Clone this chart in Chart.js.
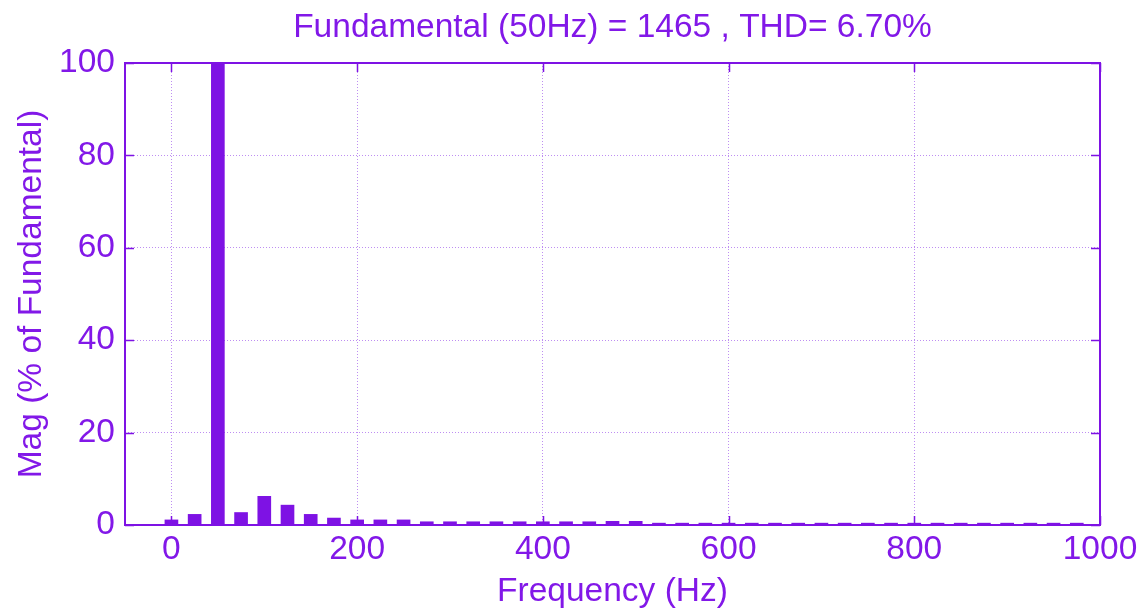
<!DOCTYPE html>
<html>
<head>
<meta charset="utf-8">
<script src="https://cdn.jsdelivr.net/npm/chart.js@4"></script>
<style>
html,body{margin:0;padding:0;background:#fff;}
#wrap{width:1147px;height:612px;}
</style>
</head>
<body>
<div id="wrap"><canvas id="c" width="1147" height="612"></canvas></div>
<script>
const chartTitle = 'Fundamental (50Hz) = 1465 , THD= 6.70%';
const xTitle = 'Frequency (Hz)';
const yTitle = 'Mag (% of Fundamental)';
const frequencies = [0,25,50,75,100,125,150,175,200,225,250,275,300,325,350,375,400,425,450,475,500,525,550,575,600,625,650,675,700,725,750,775,800,825,850,875,900,925,950,975];
const magnitudes = [1.1,2.3,100,2.7,6.2,4.3,2.3,1.5,1.1,1.1,1.1,0.7,0.7,0.7,0.7,0.7,0.7,0.7,0.7,0.8,0.8,0.4,0.4,0.4,0.4,0.4,0.4,0.4,0.4,0.4,0.4,0.4,0.4,0.4,0.4,0.4,0.4,0.4,0.4,0.4];
const xTicks = [0,200,400,600,800,1000];
const yTicks = [0,20,40,60,80,100];

const PURPLE = '#7E12E4';
const TEXT = '#8218E8';
const GRID = '#BE8EF2';
const FONT = "'Liberation Sans', Arial, sans-serif";
const FS = 33.5;

const boxPlugin = {
  id: 'box',
  afterDraw(chart) {
    const {ctx, chartArea: a, scales} = chart;
    ctx.save();
    ctx.strokeStyle = PURPLE;
    ctx.lineWidth = 2;
    ctx.strokeRect(a.left, a.top, a.right - a.left, a.bottom - a.top);
    ctx.lineWidth = 1.5;
    const L = 9;
    ctx.beginPath();
    xTicks.forEach(v => {
      const x = Math.round(scales.x.getPixelForValue(v)) + 0.5;
      ctx.moveTo(x, a.bottom); ctx.lineTo(x, a.bottom - L);
      ctx.moveTo(x, a.top); ctx.lineTo(x, a.top + L);
    });
    yTicks.forEach(v => {
      const y = Math.round(scales.y.getPixelForValue(v)) + 0.5;
      ctx.moveTo(a.left, y); ctx.lineTo(a.left + L, y);
      ctx.moveTo(a.right, y); ctx.lineTo(a.right - L, y);
    });
    ctx.stroke();
    // title centred over the plot area
    ctx.fillStyle = TEXT;
    ctx.font = FS + 'px ' + FONT;
    ctx.textAlign = 'center';
    ctx.textBaseline = 'middle';
    ctx.fillText(chartTitle, (a.left + a.right) / 2, 28);
    ctx.restore();
  }
};

new Chart(document.getElementById('c'), {
  type: 'bar',
  data: {
    datasets: [{
      data: frequencies.map((f, i) => ({x: f, y: magnitudes[i]})),
      backgroundColor: PURPLE,
      borderWidth: 0,
      barThickness: 13
    }]
  },
  options: {
    responsive: false,
    animation: false,
    layout: {padding: {left: 0, right: 47, top: 63, bottom: 0}},
    plugins: {
      legend: {display: false},
      tooltip: {enabled: false},
      title: {display: false}
    },
    scales: {
      x: {
        type: 'linear',
        min: -50,
        max: 1000,
        offset: false,
        afterBuildTicks(s) { s.ticks = xTicks.map(v => ({value: v})); },
        afterFit(s) { s.height = 87; },
        ticks: {
          color: TEXT, font: {family: FONT, size: FS}, padding: 5, maxRotation: 0, autoSkip: false,
          stepSize: 200, callback: v => String(v)
        },
        grid: {color: GRID, lineWidth: 1, drawTicks: false, offset: false},
        border: {display: false, dash: [1, 2]},
        title: {display: true, text: xTitle, color: TEXT, font: {family: FONT, size: FS}, padding: {top: 0, bottom: 0}}
      },
      y: {
        min: 0,
        max: 100,
        afterBuildTicks(s) { s.ticks = yTicks.map(v => ({value: v})); },
        afterFit(s) { s.width = 125; },
        ticks: {color: TEXT, font: {family: FONT, size: FS}, padding: 10, stepSize: 20, autoSkip: false, callback: v => String(v)},
        grid: {color: GRID, lineWidth: 1, drawTicks: false, offset: false},
        border: {display: false, dash: [1, 2]},
        title: {display: true, text: yTitle, color: TEXT, font: {family: FONT, size: FS}, padding: {top: 12, bottom: 0}}
      }
    }
  },
  plugins: [boxPlugin]
});
</script>
</body>
</html>
